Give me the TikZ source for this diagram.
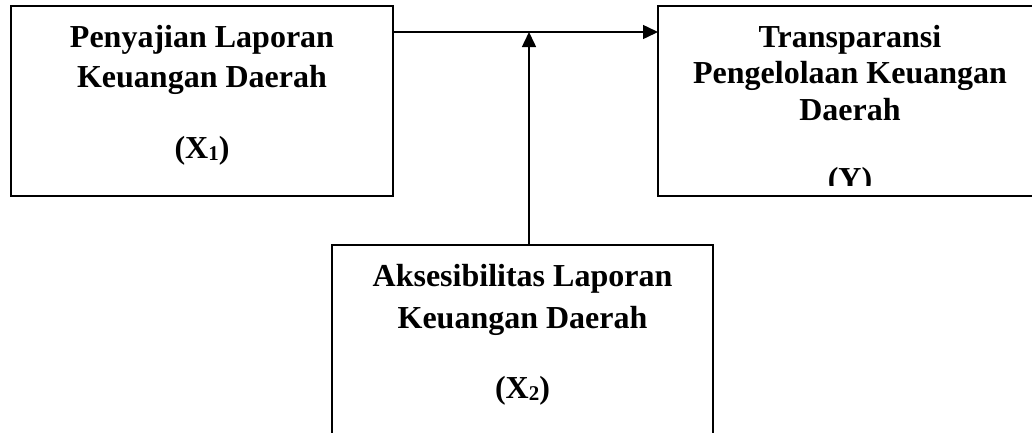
\documentclass[tikz,border=0pt]{standalone}
\usepackage{fontspec}
\setmainfont{Liberation Serif}
\usetikzlibrary{arrows.meta}
\newcommand{\subnum}[1]{{\fontsize{21}{21}\selectfont\raisebox{-2pt}{#1}}}
\begin{document}
\begin{tikzpicture}[x=1pt,y=-1pt,
  box/.style={draw, line width=1.7pt, inner sep=0pt, outer sep=0pt},
  txt/.style={anchor=base, inner sep=0pt, font=\fontsize{32}{38}\selectfont\bfseries},
  conn/.style={line width=1.5pt, -{Triangle[length=15pt,width=14pt]}}]
\clip (0,0) rectangle (1032,432);
\fill[white] (0,0) rectangle (1032,432);
% boxes
\node[box, minimum width=382pt, minimum height=190pt] (L) at (202,101) {};
\node[box, minimum width=384pt, minimum height=190pt] (R) at (850,101) {};
\node[box, minimum width=381pt, minimum height=195pt] (B) at (522.5,342.5) {};
% left texts
\node[txt] (l1) at (202,47) {Penyajian Laporan};
\node[txt] (l2) at (202,87) {Keuangan Daerah};
\node[txt] (l3) at (202,158) {(X\subnum{1})};
% right texts
\node[txt] (r1) at (850,47) {Transparansi};
\node[txt] (r2) at (850,83) {Pengelolaan Keuangan};
\node[txt] (r3) at (850,120) {Daerah};
\begin{scope}
\clip (658,0) rectangle (1042,185);
\node[txt] (r4) at (850,189) {(Y)};
\end{scope}
% bottom texts
\node[txt] (b1) at (522.5,286) {Aksesibilitas Laporan};
\node[txt] (b2) at (522.5,328) {Keuangan Daerah};
\node[txt] (b3) at (522.5,398) {(X\subnum{2})};
% connectors
\coordinate (m) at (529,32);
\draw[conn] (L.east |- m) -- (R.west |- m);
\draw[conn] (B.north -| m) -- (m);
\end{tikzpicture}
\end{document}
